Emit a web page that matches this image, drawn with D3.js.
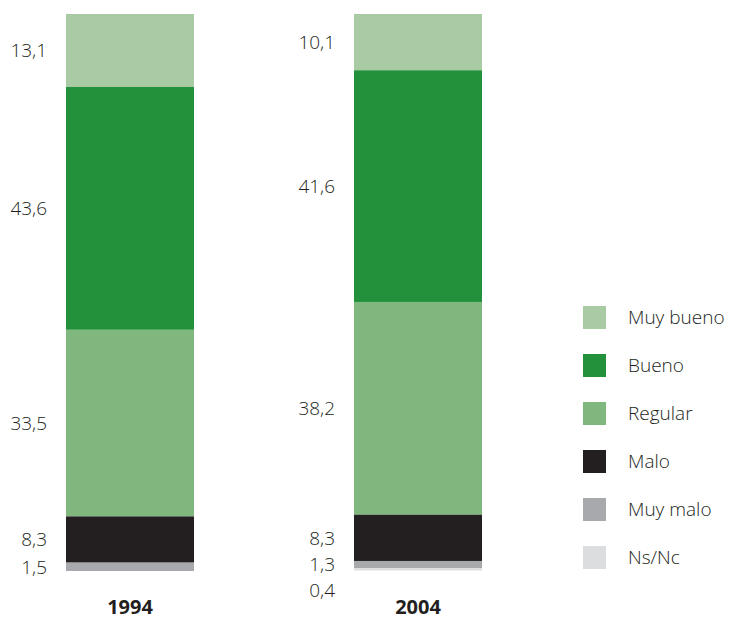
<!DOCTYPE html>
<html>
<head>
<meta charset="utf-8">
<script src="https://cdn.jsdelivr.net/npm/d3@7"></script>
<style>
  html, body { margin: 0; padding: 0; background: #fff; }
  svg { display: block; }
  text { font-family: "Open Sans", "DejaVu Sans", sans-serif; }
</style>
</head>
<body>
<svg id="chart" width="734" height="619"></svg>
<script>
// ---- data ----
const years = ["1994", "2004"];
const categories = ["Muy bueno", "Bueno", "Regular", "Malo", "Muy malo", "Ns/Nc"];
const colors = ["#a8cba4", "#23913b", "#7fb77e", "#231f20", "#a7a9ac", "#dcddde"];
const values1994 = [13.1, 43.6, 33.5, 8.3, 1.5, 0];
const values2004 = [10.1, 41.6, 38.2, 8.3, 1.3, 0.4];
const seriesValues = [values1994, values2004];

// ---- layout ----
const svg = d3.select("#chart");
const x = d3.scalePoint().domain(years).range([130, 418]);
const barW = 128;
const y = d3.scaleLinear().domain([0, 100]).range([14, 571]);
const color = d3.scaleOrdinal().domain(categories).range(colors);
const fmt = v => d3.format(".1f")(v).replace(".", ",");

years.forEach((yr, i) => {
  const vals = seriesValues[i];
  let cum = 0;
  const segs = vals.map((v, j) => {
    const s = { cat: categories[j], v, y0: cum, y1: cum + v };
    cum += v;
    return s;
  });
  const g = svg.append("g");
  g.selectAll("rect").data(segs.filter(s => s.v > 0)).join("rect")
    .attr("x", x(yr) - barW / 2)
    .attr("width", barW)
    .attr("y", d => y(d.y0))
    .attr("height", d => y(d.y1) - y(d.y0))
    .attr("fill", d => color(d.cat));

  // labels with simple collision push-down
  const labs = segs.filter(s => s.v > 0).map(s => ({ s, ly: (y(s.y0) + y(s.y1)) / 2 }));
  const gap = 26;
  for (let k = 1; k < labs.length; k++) {
    if (labs[k].ly < labs[k - 1].ly + gap) labs[k].ly = labs[k - 1].ly + gap;
  }
  g.selectAll("text.val").data(labs).join("text")
    .attr("class", "val")
    .attr("x", x(yr) - barW / 2 - 19)
    .attr("y", d => d.ly)
    .attr("dy", "0.36em")
    .attr("text-anchor", "end")
    .attr("font-size", 19)
    .attr("font-weight", 300)
    .attr("fill", "#231f20")
    .text(d => fmt(d.s.v));

  g.append("text")
    .attr("x", x(yr))
    .attr("y", 614)
    .attr("text-anchor", "middle")
    .attr("font-size", 20)
    .attr("font-weight", "bold")
    .attr("fill", "#231f20")
    .text(yr);
});

// ---- legend ----
const legend = svg.append("g").attr("transform", "translate(583,306)");
const li = legend.selectAll("g").data(categories).join("g")
  .attr("transform", (d, i) => `translate(0,${i * 48})`);
li.append("rect").attr("width", 23).attr("height", 23).attr("fill", d => color(d));
li.append("text")
  .attr("x", 45).attr("y", 11.5).attr("dy", "0.36em")
  .attr("font-size", 19)
  .attr("font-weight", 300)
  .attr("fill", "#231f20")
  .text(d => d);
</script>
</body>
</html>
